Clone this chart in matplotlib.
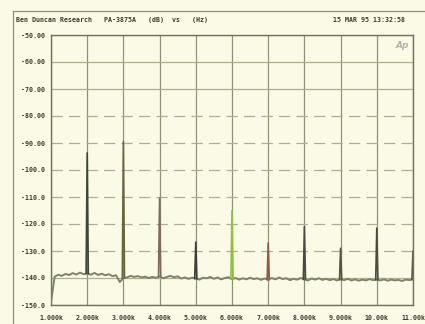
import matplotlib
matplotlib.use("Agg")
import matplotlib.pyplot as plt
from matplotlib.lines import Line2D
import numpy as np

# ---------------- data ----------------
title_left = "Ben Duncan Research   PA-3875A   (dB)  vs   (Hz)"
title_right = "15 MAR 95 13:32:58"

y_ticks = [-50, -60, -70, -80, -90, -100, -110, -120, -130, -140, -150]
y_tick_labels = ["-50.00", "-60.00", "-70.00", "-80.00", "-90.00", "-100.0",
                 "-110.0", "-120.0", "-130.0", "-140.0", "-150.0"]
x_ticks_khz = [1, 2, 3, 4, 5, 6, 7, 8, 9, 10, 11]
x_tick_labels = ["1.000k", "2.000k", "3.000k", "4.000k", "5.000k", "6.000k",
                 "7.000k", "8.000k", "9.000k", "10.00k", "11.00k"]

floor_khz = [round(1.0 + 0.1 * i, 1) for i in range(101)]
floor_db = [-149.0, -139.5, -138.8, -139.2, -138.5, -138.9, -138.2, -138.7, -138.0, -138.6,
            -138.3, -138.8, -138.1, -138.9, -138.4, -139.0, -138.6, -139.3, -139.0, -141.5,
            -140.0, -139.8, -139.2, -139.6, -139.3, -139.8, -139.5, -140.0, -139.6, -139.9,
            -139.4, -140.1, -139.6, -139.2, -139.7, -139.4, -140.2, -139.8, -140.3, -139.9,
            -140.2, -140.6, -139.9, -140.1, -139.6, -140.3, -139.8, -140.5, -140.0, -139.7,
            -140.4, -140.0, -140.6, -140.1, -140.5, -139.9, -140.4, -140.1, -140.7, -140.2,
            -140.6, -140.0, -140.5, -139.8, -140.4, -140.1, -140.8, -140.3, -140.6, -140.0,
            -140.5, -140.9, -140.2, -140.6, -140.1, -140.7, -140.3, -140.8, -140.4, -140.9,
            -140.5, -140.8, -140.3, -140.9, -140.5, -141.0, -140.6, -140.9, -140.4, -140.8,
            -140.6, -140.9, -140.5, -141.0, -140.6, -140.9, -140.7, -141.1, -140.6, -140.8,
            -140.5]

harm_khz = [2, 3, 4, 5, 6, 7, 8, 9, 10, 11]
harm_db = [-93.7, -89.5, -110.4, -126.7, -115.0, -127.0, -121.0, -129.0, -121.5, -130.0]
harm_colors = ["#3e4636", "#6b6443", "#7d6c5e", "#3c3c38", "#8fc23a",
               "#8a5c42", "#4a4a40", "#55563f", "#4a4c3e", "#5a5a48"]

# ---------------- figure ----------------
bg = "#fbfae6"
fig = plt.figure(figsize=(4.25, 3.24), dpi=100, facecolor=bg)
ax = fig.add_axes([51 / 425, 1 - 305 / 324, (413 - 51) / 425, (305 - 35) / 324])
ax.set_facecolor(bg)

mono = "DejaVu Sans Mono"
tcol = "#3a3a30"

# grid
for xv in x_ticks_khz:
    ax.axvline(xv, color="#8e9378", lw=0.9, zorder=1)
for yv in y_ticks:
    ls = "-" if yv >= -70 or yv <= -140 else (0, (9, 5))
    ax.axhline(yv, color="#aeae90", lw=0.9, ls=ls, zorder=1)

# noise floor trace
ax.plot(floor_khz, floor_db, color="#7c8368", lw=1.4, zorder=3)

# harmonic spikes
fmap = dict(zip(floor_khz, floor_db))
for f, d, c in zip(harm_khz, harm_db, harm_colors):
    base = fmap.get(float(f), -140.5)
    xs = [f - 0.03, f, f + 0.03]
    ys = [base, d, base]
    ax.plot(xs, ys, color=c, lw=1.2, zorder=4, clip_on=True)

ax.set_xlim(1, 11)
ax.set_ylim(-150, -50)
ax.set_xticks(x_ticks_khz)
ax.set_xticklabels(x_tick_labels, family=mono, fontsize=4.8, color=tcol, fontweight="bold")
ax.set_yticks(y_ticks)
ax.set_yticklabels(y_tick_labels, family=mono, fontsize=4.8, color=tcol, fontweight="bold")
ax.tick_params(axis="both", length=0, pad=4)
ax.tick_params(axis="x", pad=7)
for s in ax.spines.values():
    s.set_color("#6e735c")
    s.set_linewidth(1.0)

# header text
fig.text(16 / 425, 1 - 20 / 324, title_left, family=mono, fontsize=4.8,
         color=tcol, fontweight="bold", va="center", ha="left")
fig.text(333 / 425, 1 - 20 / 324, title_right, family=mono, fontsize=4.8,
         color=tcol, fontweight="bold", va="center", ha="left")
fig.text(402 / 425, 1 - 45 / 324, "Ap", fontsize=6.5, style="italic",
         color="#b4b4a8", va="center", ha="center", fontweight="bold")

# outer frame lines
fig.add_artist(Line2D([13 / 425, 13 / 425], [0, 1 - 11 / 324],
                      transform=fig.transFigure, color="#8a8f78", lw=0.9))
fig.add_artist(Line2D([13 / 425, 1], [1 - 11 / 324, 1 - 11 / 324],
                      transform=fig.transFigure, color="#8a8f78", lw=0.9))

fig.savefig("out.png", dpi=100, facecolor=bg)
